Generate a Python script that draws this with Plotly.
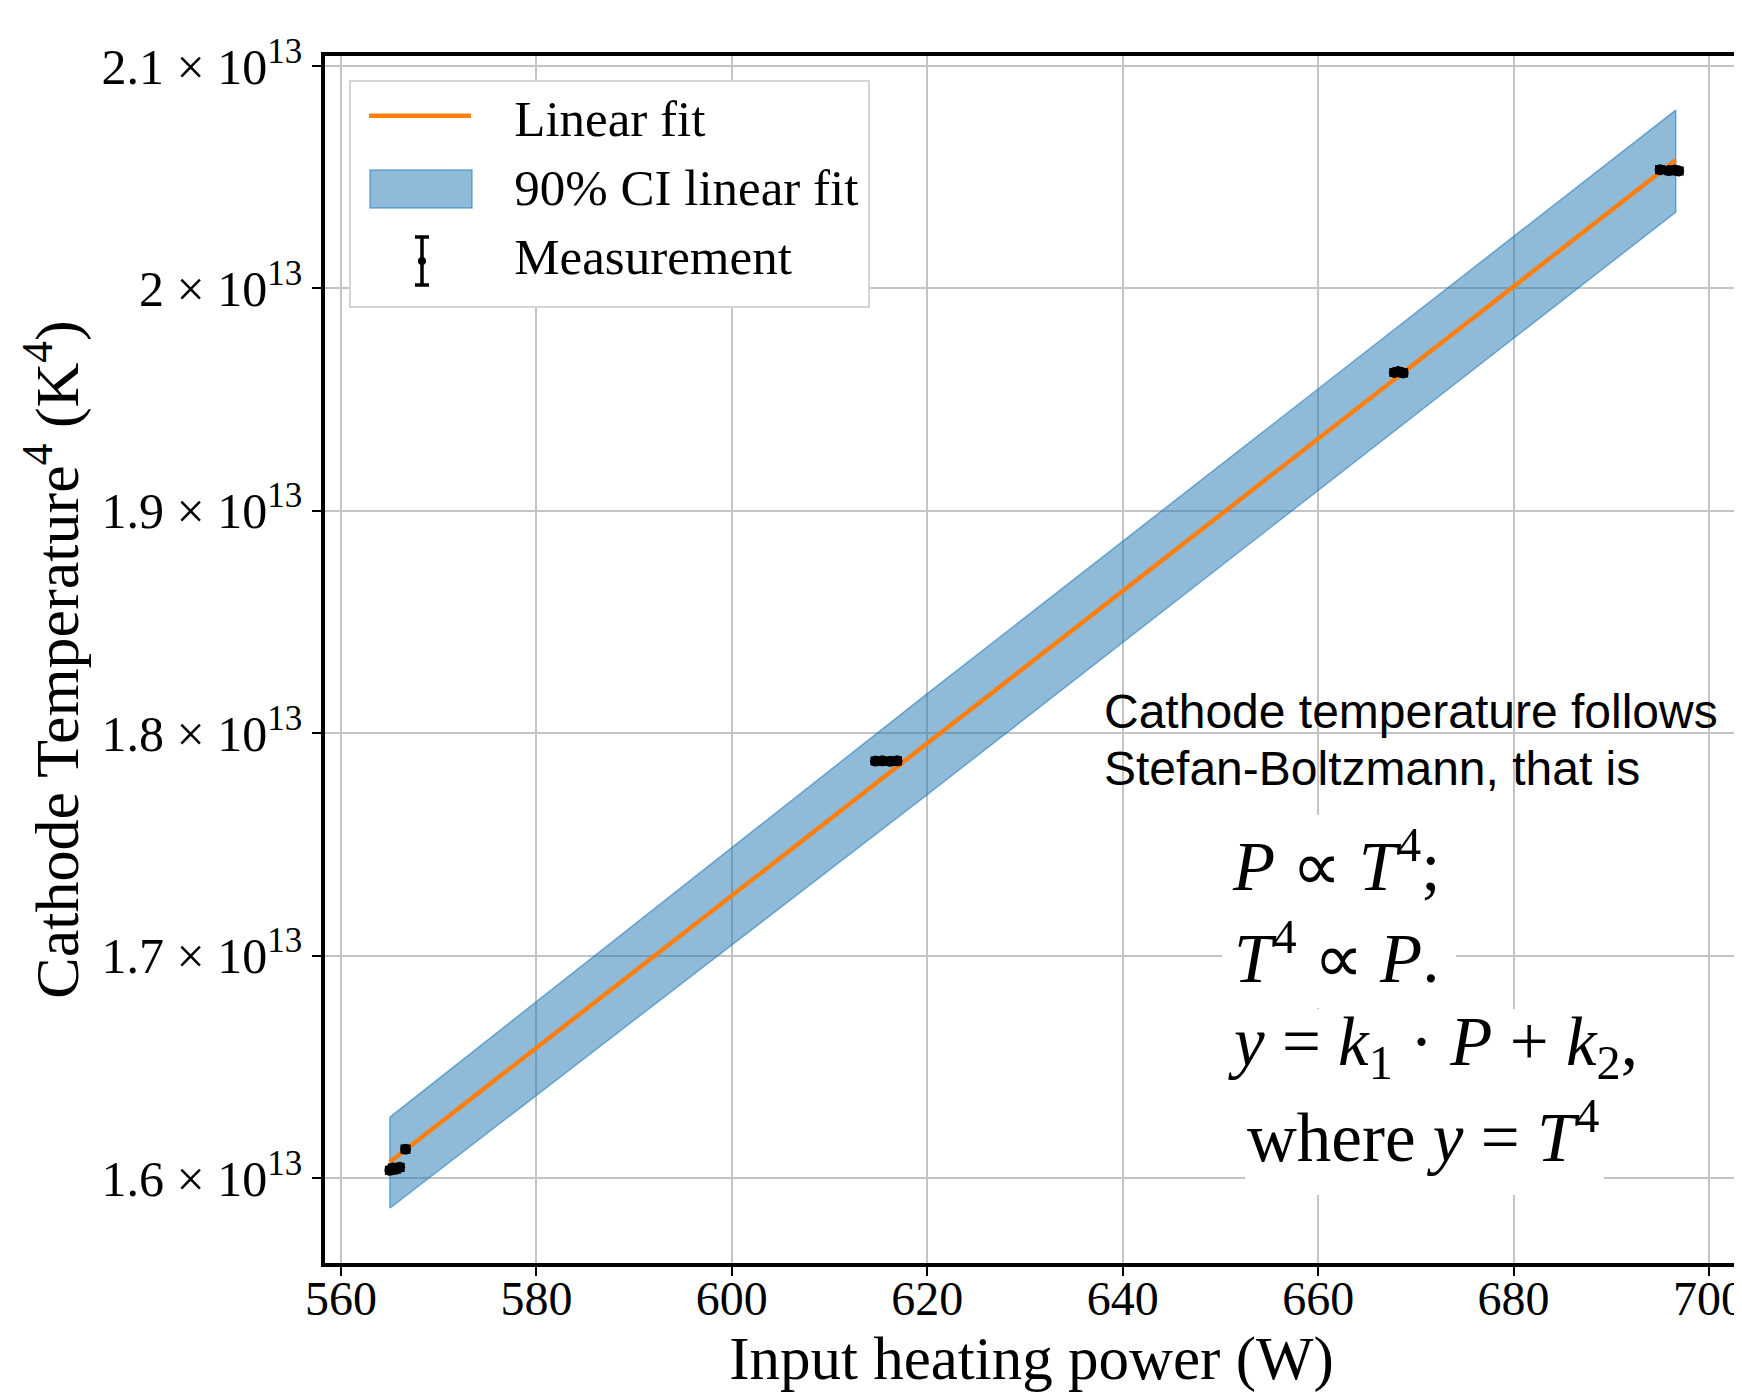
import plotly.graph_objects as go

# ---------------- data ----------------
SCALE = 1e13
power_meas = [565.0, 565.3, 565.6, 566.0, 566.6,
              614.7, 615.4, 616.2, 616.9,
              667.8, 668.2, 668.7,
              695.0, 695.9, 696.5, 696.9]
temp4_meas = [1.6035, 1.6045, 1.6040, 1.6048, 1.6130,
              1.7875, 1.7876, 1.7874, 1.7876,
              1.9622, 1.9626, 1.9620,
              2.0534, 2.0530, 2.0532, 2.0528]
temp4_err = [0.0015] * len(power_meas)

fit_x = [565.0, 696.6]
fit_y = [1.6072, 2.0577]

ci_x = [565.0, 620.2, 696.6]
ci_lower = [1.5865, 1.7731, 2.0343]
ci_upper = [1.6274, 1.8185, 2.0802]

x_ticks = [560, 580, 600, 620, 640, 660, 680, 700]
y_ticks = [1.6, 1.7, 1.8, 1.9, 2.0, 2.1]
y_tick_labels = ["1.6 × 10<sup>13</sup>", "1.7 × 10<sup>13</sup>", "1.8 × 10<sup>13</sup>",
                 "1.9 × 10<sup>13</sup>", "2 × 10<sup>13</sup>", "2.1 × 10<sup>13</sup>"]

SERIF = "Liberation Serif, Times New Roman, serif"
SANS = "Liberation Sans, Arial, sans-serif"
NB = "\u00a0\u00a0\u00a0"
BAND_FILL = "rgba(31,119,180,0.5)"
BAND_EDGE = "rgba(31,119,180,0.55)"

fig = go.Figure()

# CI band as closed polygon
poly_x = ci_x + ci_x[::-1] + [ci_x[0]]
poly_y = [v * SCALE for v in ci_lower] + [v * SCALE for v in ci_upper[::-1]] + [ci_lower[0] * SCALE]
fig.add_trace(go.Scatter(
    x=poly_x, y=poly_y, mode="lines", fill="toself",
    fillcolor=BAND_FILL, line=dict(color=BAND_EDGE, width=1.5),
    name="90% CI linear fit", showlegend=False, hoverinfo="skip"))

fig.add_trace(go.Scatter(
    x=fit_x, y=[v * SCALE for v in fit_y], mode="lines",
    line=dict(color="#ff7f0e", width=4.5),
    name=NB + "Linear fit", legendrank=1))

fig.add_trace(go.Scatter(
    x=power_meas, y=[v * SCALE for v in temp4_meas], mode="markers",
    marker=dict(color="black", size=11),
    error_y=dict(type="data", array=[e * SCALE for e in temp4_err],
                 color="black", thickness=2.5, width=5),
    name="Measurement", showlegend=False))

# legend entries whose keys are drawn as layout shapes below
fig.add_trace(go.Scatter(
    x=[None], y=[None], mode="lines", line=dict(color="rgba(0,0,0,0)", width=1),
    name=NB + "90% CI linear fit", legendrank=2))
fig.add_trace(go.Scatter(
    x=[None], y=[None], mode="lines", line=dict(color="rgba(0,0,0,0)", width=1),
    name=NB + "Measurement", legendrank=3))

# geometry helpers (page pixel -> paper); page has an 8px body margin
OFF = 8
W, H = 1742, 1394
L, R, T, B = 317, 12, 48, 139
PW, PH = W - L - R, H - T - B
def px(x):
    return (x - OFF - L) / PW
def py(y):
    return (H - B - (y - OFF)) / PH

def rect(x0, y0, x1, y1, fill, line_color=None, lw=0):
    fig.add_shape(type="rect", xref="paper", yref="paper",
                  x0=px(x0), x1=px(x1), y0=py(y1), y1=py(y0),
                  fillcolor=fill, line=dict(width=lw, color=line_color or fill),
                  layer="above")

def seg(x0, y0, x1, y1, color="black", lw=3.5):
    fig.add_shape(type="line", xref="paper", yref="paper",
                  x0=px(x0), x1=px(x1), y0=py(y0), y1=py(y1),
                  line=dict(color=color, width=lw), layer="above")

# legend frame
rect(350, 81, 869, 307, "white", "#d4d4d4", 2)
# legend key: CI patch
rect(370, 170, 472, 208, BAND_FILL, BAND_EDGE, 1.5)
# legend key: error-bar glyph
seg(422, 237, 422, 285)
seg(415, 237, 429, 237)
seg(415, 285, 429, 285)
fig.add_shape(type="circle", xref="paper", yref="paper",
              x0=px(418), x1=px(426), y0=py(265), y1=py(257),
              fillcolor="black", line=dict(width=0), layer="above")

# white patches behind the formulas
rect(1222, 815, 1456, 1008, "white")
rect(1245, 1009, 1604, 1195, "white")

ann_sans = dict(font=dict(family=SANS, size=48, color="black"))
fig.add_annotation(x=px(1102), y=py(730 - 19), xref="paper", yref="paper",
                   text="Cathode temperature follows", showarrow=False,
                   xanchor="left", yanchor="middle", **ann_sans)
fig.add_annotation(x=px(1102), y=py(787 - 19), xref="paper", yref="paper",
                   text="Stefan-Boltzmann, that is", showarrow=False,
                   xanchor="left", yanchor="middle", **ann_sans)

MS = 69
math_lines = [
    ("<i>P</i> ∝ <i>T</i><sup>4</sup>;", 1230, 889),
    ("<i>T</i><sup>4</sup> ∝ <i>P</i>.", 1232, 981),
    ("<i>y</i> = <i>k</i><sub>1</sub> · <i>P</i> + <i>k</i><sub>2</sub>,", 1226, 1074),
    ("where <i>y</i> = <i>T</i><sup>4</sup>", 1245, 1160),
]
for txt, xl, base in math_lines:
    fig.add_annotation(x=px(xl), y=py(base - 0.40 * MS), xref="paper", yref="paper",
                       text=txt, showarrow=False, xanchor="left", yanchor="middle",
                       font=dict(family=SERIF, size=MS, color="black"))

axis_common = dict(
    showline=True, linecolor="black", linewidth=3.5, mirror=True,
    ticks="outside", ticklen=9, tickwidth=2, tickcolor="black",
    showgrid=True, gridcolor="#c4c4c4", gridwidth=1.5,
    zeroline=False, ticklabeloverflow="allow",
)

fig.update_xaxes(
    range=[558.36, 702.97], tickvals=x_ticks, ticktext=[str(v) for v in x_ticks],
    tickfont=dict(family=SERIF, size=48, color="black"),
    ticklabelstandoff=-18,
    title=dict(text="Input heating power (W)", font=dict(family=SERIF, size=61, color="black"),
               standoff=10),
    **axis_common)
fig.update_yaxes(
    range=[1.5618 * SCALE, 2.1045 * SCALE], tickvals=[v * SCALE for v in y_ticks],
    ticktext=y_tick_labels,
    tickfont=dict(family=SERIF, size=50, color="black"),
    title=dict(text="Cathode Temperature<sup>4</sup> (K<sup>4</sup>)",
               font=dict(family=SERIF, size=62, color="black"), standoff=4),
    **axis_common)

fig.update_layout(
    width=W, height=H,
    margin=dict(l=L, r=R, t=T, b=B, autoexpand=False),
    paper_bgcolor="white", plot_bgcolor="white",
    showlegend=True,
    legend=dict(x=px(364), y=py(76), xanchor="left", yanchor="top",
                xref="paper", yref="paper",
                bgcolor="rgba(255,255,255,0)", borderwidth=0,
                font=dict(family=SERIF, size=51, color="black"),
                itemwidth=102, tracegroupgap=0),
)

fig.write_html("out.html")
